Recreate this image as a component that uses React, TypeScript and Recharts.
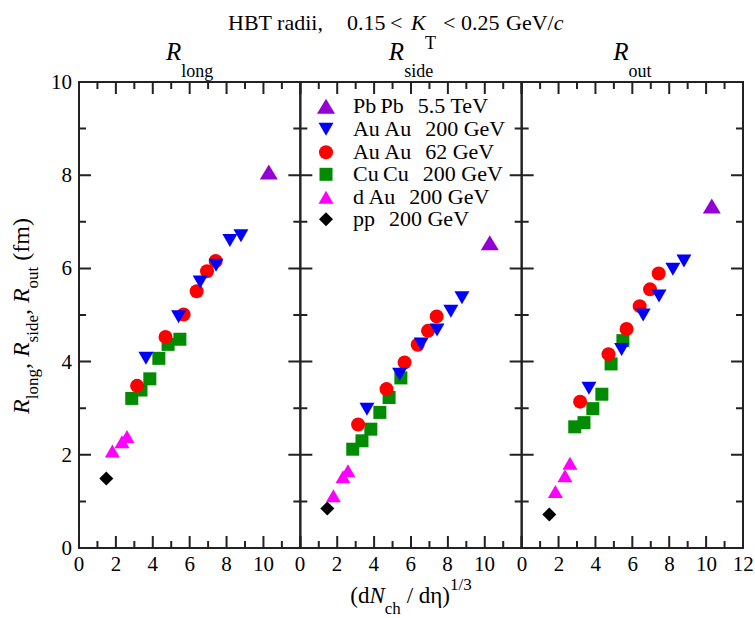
import { Legend, Scatter, ScatterChart, XAxis, YAxis } from "recharts"

// x = (dNch/deta)^(1/3), shared by the three panels
const xPbPb = [10.29]
const xAuAu200 = [3.63, 5.4, 6.57, 7.43, 8.18, 8.78]
const xAuAu62 = [3.15, 4.69, 5.67, 6.38, 6.94, 7.41]
const xCuCu = [2.86, 3.36, 3.84, 4.33, 4.83, 5.47]
const xDAu = [1.81, 2.33, 2.6]
const xPP = [1.48]

// R_long (fm)
const longPbPb = [8.07]
const longAuAu200 = [4.07, 4.96, 5.71, 6.07, 6.6, 6.7]
const longAuAu62 = [3.48, 4.53, 5.01, 5.51, 5.94, 6.16]
const longCuCu = [3.21, 3.39, 3.63, 4.07, 4.37, 4.48]
const longDAu = [2.08, 2.28, 2.39]
const longPP = [1.49]

// R_side (fm)
const sidePbPb = [6.55]
const sideAuAu200 = [2.98, 3.73, 4.38, 4.68, 5.08, 5.37]
const sideAuAu62 = [2.65, 3.41, 3.98, 4.36, 4.66, 4.97]
const sideCuCu = [2.12, 2.3, 2.55, 2.91, 3.23, 3.65]
const sideDAu = [1.12, 1.53, 1.66]
const sidePP = [0.85]

// R_out (fm)
const outPbPb = [7.34]
const outAuAu200 = [3.43, 4.26, 5.0, 5.41, 5.98, 6.16]
const outAuAu62 = [3.14, 4.16, 4.7, 5.19, 5.55, 5.89]
const outCuCu = [2.6, 2.69, 2.99, 3.3, 3.95, 4.45]
const outDAu = [1.21, 1.55, 1.82]
const outPP = [0.72]

const xTicks = [0, 1, 2, 3, 4, 5, 6, 7, 8, 9, 10, 11, 12]
const yTicks = [0, 1, 2, 3, 4, 5, 6, 7, 8, 9, 10]
const panelNames = ["long", "side", "out"]

const series = [
  { name: "Pb\u2009Pb", energy: "5.5 TeV", color: "#9400d3", kind: "up", big: true, x: xPbPb, y: [longPbPb, sidePbPb, outPbPb] },
  { name: "Au\u2009Au", energy: "200 GeV", color: "#0000ff", kind: "down", x: xAuAu200, y: [longAuAu200, sideAuAu200, outAuAu200] },
  { name: "Au\u2009Au", energy: "62 GeV", color: "#ff0000", kind: "circle", x: xAuAu62, y: [longAuAu62, sideAuAu62, outAuAu62] },
  { name: "Cu\u2009Cu", energy: "200 GeV", color: "#008b00", kind: "square", x: xCuCu, y: [longCuCu, sideCuCu, outCuCu] },
  { name: "d\u2009Au", energy: "200 GeV", color: "#ff00ff", kind: "up", x: xDAu, y: [longDAu, sideDAu, outDAu] },
  { name: "pp", energy: "200 GeV", color: "#000000", kind: "diamond", x: xPP, y: [longPP, sidePP, outPP] },
]

const AX = "#222"
const FONT = "'Liberation Serif', serif"

// plot box in page pixels
const LEFT = 79
const TOP = 82
const PH = 466
const PW = 664 / 3
const ML = 34
const MR = 16
const MT = 14
const HB = 34

// inward ticks: long on even values, short on odd ones
const tickLen = (v: number) => (v % 2 === 0 ? 12 : 7)

function Marker({ cx, cy, kind, color, big }: any) {
  if (cx == null || cy == null) return null
  if (kind === "circle") return <circle cx={cx} cy={cy} r={7} fill={color} />
  if (kind === "square") return <rect x={cx - 6.5} y={cy - 6.5} width={13} height={13} fill={color} />
  if (kind === "diamond") {
    const d = 7
    return <path d={`M${cx},${cy - d}L${cx + d},${cy}L${cx},${cy + d}L${cx - d},${cy}Z`} fill={color} />
  }
  const w = big ? 9 : 7.5
  const h = big ? 7.5 : 6.5
  if (kind === "down") return <path d={`M${cx - w},${cy - h}L${cx + w},${cy - h}L${cx},${cy + h}Z`} fill={color} />
  return <path d={`M${cx - w},${cy + h}L${cx + w},${cy + h}L${cx},${cy - h}Z`} fill={color} />
}

const bottomLabel = (last: boolean) => (props: any) => {
  const v = props.payload.value
  if (v % 2 !== 0 || (v === 12 && !last)) return <g />
  return (
    <text x={props.x} y={Number(props.y) + 23} textAnchor="middle" fontSize={21} fontFamily={FONT} fill="#000">{v}</text>
  )
}

const leftLabel = (show: boolean) => (props: any) => {
  const v = props.payload.value
  if (!show || v % 2 !== 0) return <g />
  return (
    <text x={Number(props.x) - 7} y={Number(props.y) + 7} textAnchor="end" fontSize={21} fontFamily={FONT} fill="#000">{v}</text>
  )
}

function LegendBox() {
  return (
    <div style={{ fontFamily: FONT, fontSize: 22, lineHeight: "22.6px", color: "#000" }}>
      {series.map((s) => (
        <div key={s.name + s.energy} style={{ display: "flex", alignItems: "center", height: 22.6, whiteSpace: "pre" }}>
          <svg width={20} height={22.6} style={{ flex: "none" }}>
            <Marker cx={10} cy={11.3} kind={s.kind} color={s.color} big={s.big} />
          </svg>
          <span style={{ marginLeft: 17 }}>{s.name}</span>
          <span style={{ marginLeft: 14 }}>{s.energy}</span>
        </div>
      ))}
    </div>
  )
}

function Panel({ i }: { i: number }) {
  const drawOrder = [...series].reverse()
  const common = { type: "number" as const, interval: 0, axisLine: false, tickLine: false, tickSize: 0, tickMargin: 0 }
  return (
    <div style={{ position: "absolute", left: LEFT + i * PW - ML, top: TOP - MT }}>
      <ScatterChart width={ML + PW + MR} height={MT + PH + HB}
        margin={{ top: MT, right: MR, bottom: HB - 1, left: ML - 1 }}>
        <XAxis {...common} xAxisId="x" dataKey="x" domain={[0, 12]} ticks={xTicks} height={1} tick={bottomLabel(i === 2)} />
        <YAxis {...common} yAxisId="y" dataKey="y" domain={[0, 10]} ticks={yTicks} width={1} tick={leftLabel(i === 0)} />
        {drawOrder.map((s) => (
          <Scatter key={s.name + s.energy} xAxisId="x" yAxisId="y" data={s.x.map((x, k) => ({ x, y: s.y[i][k] }))}
            isAnimationActive={false}
            shape={(p: any) => <Marker cx={p.cx} cy={p.cy} kind={s.kind} color={s.color} big={s.big} />} />
        ))}
        {i === 1 ? (
          <Legend layout="vertical" align="center" verticalAlign="middle" content={() => <LegendBox />}
            wrapperStyle={{ left: 316 - (LEFT + PW - ML), top: 95.4 - (TOP - MT), width: "auto", height: "auto" }} />
        ) : null}
      </ScatterChart>
    </div>
  )
}

// frame and inward ticks of one panel, from the same tick lists as the axes
function Frame({ i }: { i: number }) {
  const x0 = LEFT + i * PW
  const bottom = TOP + PH
  const d: string[] = []
  xTicks.forEach((v) => {
    const x = x0 + (v / 12) * PW
    d.push(`M${x},${bottom}V${bottom - tickLen(v)}`, `M${x},${TOP}V${TOP + tickLen(v)}`)
  })
  yTicks.forEach((v) => {
    const y = bottom - (v / 10) * PH
    d.push(`M${x0},${y}H${x0 + tickLen(v)}`, `M${x0 + PW},${y}H${x0 + PW - tickLen(v)}`)
  })
  return (
    <g>
      <path d={d.join("")} stroke={AX} strokeWidth={2} fill="none" />
      <rect x={x0} y={TOP} width={PW} height={PH} fill="none" stroke={AX} strokeWidth={2} />
    </g>
  )
}

export default function App() {
  return (
    <div style={{ position: "absolute", left: 0, top: 0, width: 755, height: 618, background: "#fff", fontFamily: FONT }}>
      {[0, 1, 2].map((i) => <Panel key={i} i={i} />)}
      <svg width={755} height={618} style={{ position: "absolute", left: 0, top: 0, pointerEvents: "none" }}>
        {[0, 1, 2].map((i) => <Frame key={i} i={i} />)}
        <g fontFamily={FONT} fill="#000">
          <text y={30} fontSize={22}>
            <tspan x={228}>HBT radii,</tspan>
            <tspan x={347}>0.15</tspan>
            <tspan x={390}>{"<"}</tspan>
            <tspan x={411} fontStyle="italic">K</tspan>
            <tspan x={425} y={49} fontSize={18}>T</tspan>
            <tspan x={443} y={30}>{"<"}</tspan>
            <tspan x={461}>0.25</tspan>
            <tspan x={506}>GeV/</tspan>
            <tspan fontStyle="italic">c</tspan>
          </text>
          {panelNames.map((n, i) => (
            <text key={n} x={LEFT + (i + 0.5) * PW} y={59.5} textAnchor="middle" fontSize={25}>
              <tspan fontStyle="italic">R</tspan>
              <tspan dy={17} fontSize={18}>{n}</tspan>
            </text>
          ))}
          <text x={411} y={603} textAnchor="middle" fontSize={23}>
            (d<tspan fontStyle="italic">N</tspan>
            <tspan dy={11} fontSize={17}>ch</tspan>
            <tspan dy={-11} style={{ whiteSpace: "pre" }}> / d</tspan>η)
            <tspan dy={-13} fontSize={17}>1/3</tspan>
          </text>
          <text x={28.5} y={316} textAnchor="middle" fontSize={24} transform="rotate(-90 28.5 316)" style={{ whiteSpace: "pre" }}>
            <tspan fontStyle="italic">R</tspan>
            <tspan dy={9} fontSize={17}>long</tspan>
            <tspan dy={-9}>, </tspan>
            <tspan fontStyle="italic">R</tspan>
            <tspan dy={9} fontSize={17}>side</tspan>
            <tspan dy={-9}>, </tspan>
            <tspan fontStyle="italic">R</tspan>
            <tspan dy={9} fontSize={17}>out</tspan>
            <tspan dy={-9}> (fm)</tspan>
          </text>
        </g>
      </svg>
    </div>
  )
}
